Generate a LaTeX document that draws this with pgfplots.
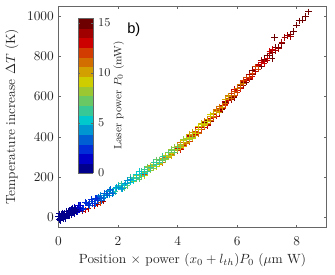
\documentclass[border=0pt]{standalone}
\usepackage{pgfplots}
\pgfplotsset{compat=1.18}
\usepackage{fontspec}
\newfontfamily\helv{Liberation Sans}
\pgfplotsset{colormap={mjet}{[1pt] rgb255(0pt)=(0,0,140) rgb255(1pt)=(0,0,140) rgb255(3pt)=(0,0,200) rgb255(5pt)=(0,45,215) rgb255(7pt)=(0,95,210) rgb255(9pt)=(0,150,210) rgb255(11pt)=(0,200,205) rgb255(13pt)=(55,200,150) rgb255(15pt)=(105,200,100) rgb255(17pt)=(155,200,50) rgb255(19pt)=(205,205,0) rgb255(21pt)=(210,160,0) rgb255(23pt)=(210,110,0) rgb255(25pt)=(210,60,0) rgb255(27pt)=(205,0,0) rgb255(29pt)=(160,0,0) rgb255(31pt)=(110,0,0) rgb255(32pt)=(110,0,0)}}
\begin{document}
\begin{tikzpicture}
\useasboundingbox (-43.9pt,-35.6pt) rectangle (207.4pt,170.6pt);
\begin{axis}[
  at={(0,0)}, anchor=south west,
  scale only axis, width=201pt, height=166pt,
  xmin=0, xmax=9, ymin=-50, ymax=1050,
  xtick={0,2,4,6,8}, ytick={0,200,400,600,800,1000},
  /pgf/number format/1000 sep={},
  major tick length=2pt,
  axis line style={black!60}, every tick/.style={black!60},
  tick label style={black!85},
  xticklabel style={yshift=-3.5pt},
  xlabel={Position $\times$ power $(x_0+l_{th})P_0$ ($\mu$m W)},
  ylabel={Temperature increase $\Delta T$ (K)},
  every axis x label/.style={at={(axis description cs:0.5,-0.147)}, anchor=center, black!85},
  every axis y label/.style={at={(axis description cs:-0.174,0.5)}, anchor=center, rotate=90, black!85},
  colormap name=mjet,
  point meta min=0, point meta max=15.5,
  colorbar, colorbar sampled={surf, mark=none, shader=flat mean},
  colorbar style={
    at={(parent axis.north west)}, anchor=north west, xshift=6.4pt, yshift=-9pt,
    scale only axis, width=11.25pt, height=116pt, samples=17,
    ytick={0,5,10,15}, yticklabel pos=right,
    yticklabel style={font=\small, black!85},
    major tick length=1.5pt,
    axis line style={black!60},
    ylabel={Laser power $P_0$ (mW)},
    every axis y label/.style={at={(axis description cs:2.69,0.5)}, anchor=center, rotate=90, font=\footnotesize, black!85},
  },
]
\addplot[scatter, only marks, mark=+, mark size=2.4pt, line width=0.6pt, scatter src=explicit,
  scatter/use mapped color={draw=mapped color, fill=mapped color}]
  table[x=x, y=y, meta=c] {
x y c
0.8 32 14.05
0.9 38 13.08
1.0 45 14.05
1.2 59 13.08
1.3 66 14.05
1.4 74 12.11
1.5 81 14.05
2.8 206 11.14
2.9 214 12.11
7.25 895 15.02
7.18 790 15.02
4.6 422 15.02
4.8 437 15.02
5.0 483 15.02
5.2 499 15.02
5.4 521 15.02
5.6 570 15.02
5.8 596 15.02
6.0 619 15.02
6.2 672 15.02
6.4 687 15.02
6.6 735 15.02
6.8 751 15.02
7.0 803 15.02
7.2 822 15.02
7.4 846 15.02
7.6 895 15.02
7.7 905 15.02
7.8 911 15.02
7.9 925 15.02
8.0 955 15.02
8.1 977 15.02
8.2 980 15.02
8.3 999 15.02
8.4 1022 15.02
4.7 415 15.02
4.9 472 15.02
5.1 481 15.02
5.3 533 15.02
5.5 535 15.02
5.7 589 15.02
5.9 596 15.02
6.1 657 15.02
6.3 672 15.02
6.5 732 15.02
6.7 737 15.02
6.9 785 15.02
7.1 804 15.02
7.3 844 15.02
7.5 865 15.02
4.3 375 14.05
4.5 392 14.05
4.7 437 14.05
4.9 458 14.05
5.1 478 14.05
5.3 529 14.05
5.5 542 14.05
5.7 583 14.05
5.9 600 14.05
6.1 660 14.05
6.3 682 14.05
6.5 709 14.05
6.7 758 14.05
6.9 775 14.05
7.1 816 14.05
7.3 829 14.05
7.5 871 14.05
7.7 905 14.05
4.4 407 14.05
4.6 405 14.05
4.8 453 14.05
5.0 457 14.05
5.2 515 14.05
5.4 528 14.05
5.6 578 14.05
5.8 586 14.05
6.0 642 14.05
6.2 654 14.05
6.4 712 14.05
6.6 724 14.05
6.8 779 14.05
7.0 782 14.05
7.2 828 14.05
7.4 838 14.05
7.6 894 14.05
7.8 900 14.05
4.0 342 13.08
4.2 357 13.08
4.4 403 13.08
4.6 412 13.08
4.8 447 13.08
5.0 461 13.08
5.2 510 13.08
5.4 530 13.08
5.6 563 13.08
5.8 615 13.08
6.0 632 13.08
6.2 674 13.08
6.4 690 13.08
6.6 734 13.08
6.8 768 13.08
7.0 788 13.08
7.2 834 13.08
4.1 338 13.08
4.3 391 13.08
4.5 399 13.08
4.7 445 13.08
4.9 448 13.08
5.1 493 13.08
5.3 503 13.08
5.5 559 13.08
5.7 580 13.08
5.9 636 13.08
6.1 639 13.08
6.3 688 13.08
6.5 701 13.08
6.7 757 13.08
6.9 764 13.08
7.1 824 13.08
3.7 302 12.11
3.9 333 12.11
4.1 342 12.11
4.3 386 12.11
4.5 401 12.11
4.7 422 12.11
4.9 469 12.11
5.1 483 12.11
5.3 531 12.11
5.5 545 12.11
5.7 590 12.11
5.9 625 12.11
6.1 645 12.11
6.3 694 12.11
6.5 714 12.11
6.7 736 12.11
3.8 334 12.11
4.0 332 12.11
4.2 372 12.11
4.4 377 12.11
4.6 429 12.11
4.8 436 12.11
5.0 489 12.11
5.2 497 12.11
5.4 544 12.11
5.6 555 12.11
5.8 614 12.11
6.0 621 12.11
6.2 682 12.11
6.4 694 12.11
6.6 748 12.11
3.4 284 11.14
3.6 296 11.14
3.8 313 11.14
4.0 355 11.14
4.2 364 11.14
4.4 399 11.14
4.6 409 11.14
4.8 454 11.14
5.0 486 11.14
5.2 503 11.14
5.4 550 11.14
5.6 568 11.14
5.8 593 11.14
6.0 643 11.14
6.2 668 11.14
3.5 272 11.14
3.7 321 11.14
3.9 324 11.14
4.1 372 11.14
4.3 367 11.14
4.5 409 11.14
4.7 416 11.14
4.9 476 11.14
5.1 480 11.14
5.3 539 11.14
5.5 549 11.14
5.7 604 11.14
5.9 608 11.14
6.1 661 11.14
3.1 256 10.17
3.3 262 10.17
3.5 293 10.17
3.7 300 10.17
3.9 335 10.17
4.1 362 10.17
4.3 374 10.17
4.5 421 10.17
4.7 435 10.17
4.9 455 10.17
5.1 502 10.17
5.3 525 10.17
5.5 546 10.17
5.7 600 10.17
3.2 272 10.17
3.4 264 10.17
3.6 303 10.17
3.8 306 10.17
4.0 355 10.17
4.2 354 10.17
4.4 413 10.17
4.6 419 10.17
4.8 468 10.17
5.0 469 10.17
5.2 519 10.17
5.4 524 10.17
5.6 584 10.17
2.8 206 9.2
3.0 237 9.2
3.2 261 9.2
3.4 270 9.2
3.6 309 9.2
3.8 319 9.2
4.0 339 9.2
4.2 381 9.2
4.4 399 9.2
4.6 416 9.2
4.8 464 9.2
5.0 476 9.2
2.9 209 9.2
3.1 255 9.2
3.3 251 9.2
3.5 301 9.2
3.7 304 9.2
3.9 349 9.2
4.1 350 9.2
4.3 395 9.2
4.5 395 9.2
4.7 451 9.2
4.9 462 9.2
5.1 510 9.2
2.5 180 8.23
2.7 216 8.23
2.9 222 8.23
3.1 234 8.23
3.3 273 8.23
3.5 287 8.23
3.7 306 8.23
3.9 350 8.23
4.1 357 8.23
4.3 389 8.23
4.5 399 8.23
2.6 211 8.23
2.8 210 8.23
3.0 251 8.23
3.2 244 8.23
3.4 286 8.23
3.6 288 8.23
3.8 340 8.23
4.0 346 8.23
4.2 389 8.23
4.4 389 8.23
2.2 149 7.27
2.4 186 7.27
2.6 198 7.27
2.8 208 7.27
3.0 248 7.27
3.2 256 7.27
3.4 285 7.27
3.6 292 7.27
3.8 335 7.27
4.0 348 7.27
2.3 157 7.27
2.5 197 7.27
2.7 191 7.27
2.9 239 7.27
3.1 242 7.27
3.3 286 7.27
3.5 282 7.27
3.7 321 7.27
3.9 324 7.27
1.9 128 6.30
2.1 167 6.30
2.3 168 6.30
2.5 195 6.30
2.7 199 6.30
2.9 238 6.30
3.1 248 6.30
3.3 263 6.30
3.5 303 6.30
2.0 159 6.30
2.2 160 6.30
2.4 198 6.30
2.6 192 6.30
2.8 227 6.30
3.0 226 6.30
3.2 273 6.30
3.4 274 6.30
1.6 114 5.33
1.8 117 5.33
2.0 154 5.33
2.2 162 5.33
2.4 175 5.33
2.6 213 5.33
2.8 217 5.33
1.7 110 5.33
1.9 143 5.33
2.1 141 5.33
2.3 185 5.33
2.5 184 5.33
2.7 227 5.33
2.9 217 5.33
1.35 90 4.36
1.5 95 4.36
1.65 127 4.36
1.8 125 4.36
1.95 148 4.36
2.1 145 4.36
2.25 171 4.36
2.4 188 4.36
1.4 108 4.36
1.55 99 4.36
1.7 136 4.36
1.85 120 4.36
2.0 150 4.36
2.15 144 4.36
2.3 183 4.36
1.0 63 3.39
1.1 80 3.39
1.2 71 3.39
1.3 90 3.39
1.4 101 3.39
1.5 96 3.39
1.6 121 3.39
1.7 117 3.39
1.8 118 3.39
1.05 57 3.39
1.15 81 3.39
1.25 68 3.39
1.35 102 3.39
1.45 84 3.39
1.55 121 3.39
1.65 110 3.39
1.75 140 3.39
0.7 58 2.42
0.75 48 2.42
0.85 46 2.42
0.95 70 2.42
1.05 70 2.42
1.15 68 2.42
1.25 96 2.42
1.3 83 2.42
0.72 59 2.42
0.8 39 2.42
0.9 74 2.42
1.0 61 2.42
1.1 90 2.42
1.2 69 2.42
1.28 96 2.42
0.4 34 1.45
0.45 30 1.45
0.5 25 1.45
0.55 49 1.45
0.6 36 1.45
0.65 47 1.45
0.7 36 1.45
0.75 59 1.45
0.42 22 1.45
0.47 47 1.45
0.52 23 1.45
0.57 47 1.45
0.62 26 1.45
0.67 58 1.45
0.72 45 1.45
0.0 5 0.48
0.02 -10 0.48
0.05 -5 0.48
0.08 14 0.48
0.1 10 0.48
0.12 0 0.48
0.15 -8 0.48
0.2 20 0.48
0.22 5 0.48
0.25 12 0.48
0.28 28 0.48
0.3 12 0.48
0.35 35 0.48
0.38 18 0.48
0.4 22 0.48
0.45 38 0.48
0.48 40 0.48
0.5 26 0.48
0.55 33 0.48
0.03 18 0.48
0.07 -15 0.48
0.13 22 0.48
0.17 -3 0.48
0.18 15 0.48
0.23 -5 0.48
0.27 30 0.48
0.32 8 0.48
0.33 32 0.48
0.37 10 0.48
0.42 40 0.48
0.43 15 0.48
0.47 22 0.48
0.52 45 0.48
0.53 20 0.48
0.57 40 0.48
0.6 30 0.48
};
\node[font=\helv\fontsize{11}{13}\selectfont, black] at (axis cs:2.53,931) {b)};
\end{axis}
\end{tikzpicture}
\end{document}
